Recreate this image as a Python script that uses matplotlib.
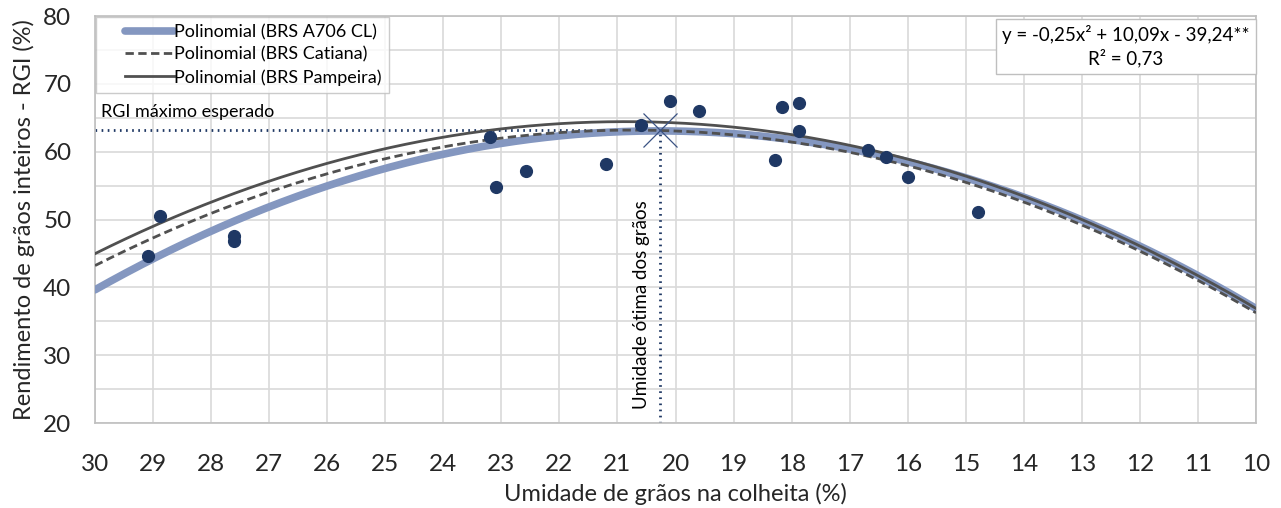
import matplotlib.pyplot as plt
from matplotlib.legend_handler import HandlerLine2D
import numpy as np

plt.rcParams['font.family'] = ['Lato', 'DejaVu Sans']

# values
curve_x = [30, 25, 20, 15, 10]
a706_y = [39.6, 57.6, 63.2, 55.9, 37.0]
catiana_y = [43.2, 59.0, 63.1, 55.4, 36.3]
pampeira_y = [45.0, 60.4, 64.3, 56.4, 36.9]

# observed points
obs_x = [29.09, 28.88, 27.6, 27.6, 23.19, 23.1, 22.57, 21.19, 20.59, 20.09,
         19.59, 18.29, 18.17, 17.88, 17.88, 16.69, 16.38, 16.0, 14.79]
obs_y = [44.6, 50.5, 47.6, 46.8, 62.1, 54.8, 57.1, 58.2, 63.9, 67.5,
         66.0, 58.8, 66.6, 67.2, 63.0, 60.2, 59.2, 56.3, 51.1]

x_opt = 20.26
y_max = 63.2

fig = plt.figure(figsize=(12.81, 5.08), dpi=100)
ax = fig.add_axes([0.0742, 0.167, 0.9063, 0.8015])

xs = np.linspace(30, 10, 300)
navy = '#1F3864'

ax.plot(xs, np.polyval(np.polyfit(curve_x, a706_y, 2), xs), color='#8497C0', lw=5.5,
        solid_capstyle='round', label='Polinomial (BRS A706 CL)', zorder=3)
ax.plot(xs, np.polyval(np.polyfit(curve_x, catiana_y, 2), xs), color='#505050', lw=2,
        ls=(0, (3, 1.6)), label='Polinomial (BRS Catiana)', zorder=4)
ax.plot(xs, np.polyval(np.polyfit(curve_x, pampeira_y, 2), xs), color='#505050', lw=2,
        label='Polinomial (BRS Pampeira)', zorder=4)

ax.scatter(obs_x, obs_y, s=72, color=navy, zorder=5)

# optimum guides
ax.plot([30, x_opt], [y_max, y_max], color=navy, lw=2, ls=(0, (0.6, 1.6)), zorder=2)
ax.plot([x_opt, x_opt], [20, y_max], color=navy, lw=2, ls=(0, (0.6, 1.6)), zorder=2)
ax.plot([x_opt], [y_max], marker='x', ms=25, mew=0.9, color='#3A5283', zorder=6)

ax.text(29.9, 65.9, 'RGI máximo esperado', fontsize=13, ha='left', va='center')
ax.text(20.58, 37.5, 'Umidade ótima dos grãos', fontsize=13.5, rotation=90,
        ha='center', va='center')

ax.text(0.888, 0.925, 'y = -0,25x² + 10,09x - 39,24**\nR² = 0,73', transform=ax.transAxes,
        fontsize=13.5, ha='center', va='center', linespacing=1.3,
        bbox=dict(boxstyle='square,pad=0.35', fc='white', ec='#BFBFBF', lw=1))

ax.set_xlim(30, 10)
ax.set_ylim(20, 80)
ax.set_xticks(np.arange(30, 9, -1))
ax.set_yticks(np.arange(20, 81, 10))
ax.set_yticks(np.arange(20, 81, 5), minor=True)
ax.grid(True, which='both', color='#D9D9D9', lw=1.2)
ax.set_axisbelow(True)
ax.tick_params(which='both', length=0, labelsize=17.5, colors='#262626')
ax.tick_params(axis='x', pad=22)
ax.tick_params(axis='y', pad=17)
for s in ax.spines.values():
    s.set_color('#BFBFBF')
    s.set_linewidth(1.2)

ax.set_xlabel('Umidade de grãos na colheita (%)', fontsize=17, color='#262626', labelpad=6)
ax.set_ylabel('Rendimento de grãos inteiros - RGI (%)', fontsize=17, color='#262626', labelpad=6)

# handles inset from the left edge of the legend box, like the original
hpad = HandlerLine2D(xpad=1.2)
leg = ax.legend(loc='upper left', fontsize=13, frameon=True, fancybox=False,
                borderaxespad=0.05, handlelength=3.9, handletextpad=0.05,
                labelspacing=0.35, borderpad=0.4,
                handler_map={l: hpad for l in ax.get_lines()[:3]})
leg.get_frame().set_edgecolor('#BFBFBF')
leg.get_frame().set_linewidth(1)

fig.savefig('out.png', dpi=100)
